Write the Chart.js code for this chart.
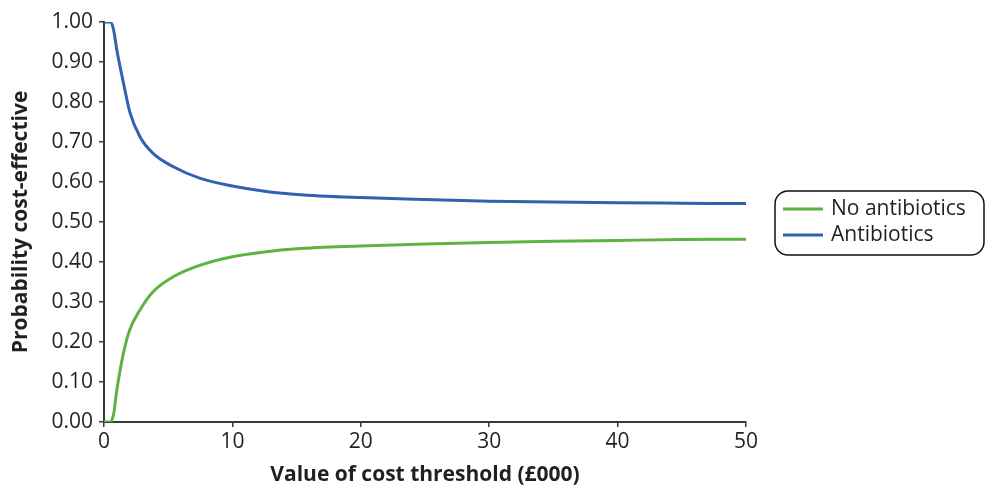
<!DOCTYPE html>
<html>
<head>
<meta charset="utf-8">
<script src="https://cdn.jsdelivr.net/npm/chart.js@4.4.1/dist/chart.umd.min.js"></script>
<style>
  html, body { margin: 0; padding: 0; background: #fff; }
  #wrap { width: 986px; height: 492px; position: relative; }
</style>
</head>
<body>
<div id="wrap"><canvas id="ceac"></canvas></div>
<script>
// cost threshold (£000)
const thresholds = [0, 0.5, 0.75, 1, 1.5, 2, 2.8, 3.8, 5.4, 7.5, 10, 12.5, 15, 20, 25, 30, 35, 40, 45, 50];
const noAntibiotics = [0, 0, 0.02, 0.08, 0.17, 0.23, 0.28, 0.325, 0.363, 0.392, 0.413, 0.425, 0.433, 0.44, 0.445, 0.449, 0.452, 0.454, 0.456, 0.457];
const antibiotics = [1, 1, 0.98, 0.93, 0.85, 0.776, 0.713, 0.672, 0.638, 0.609, 0.59, 0.577, 0.569, 0.561, 0.556, 0.552, 0.55, 0.548, 0.547, 0.546];
const seriesNames = ["No antibiotics", "Antibiotics"];
const seriesColors = ["#5DB342", "#3062B2"];

const textColor = "#231f20";
const axisColor = "#3a3a3a";
const fontFamily = "'Open Sans', 'Noto Sans', sans-serif";

const toPoints = (ys) => thresholds.map((x, i) => ({ x: x, y: ys[i] }));

// legend with rounded frame on the right
const boxLegend = {
  id: "boxLegend",
  afterDraw(chart) {
    const c = chart.ctx;
    c.save();
    c.strokeStyle = "#111";
    c.lineWidth = 1.5;
    c.beginPath();
    c.roundRect(775, 191, 209, 64, 13);
    c.stroke();
    c.font = "21px " + fontFamily;
    c.textBaseline = "middle";
    seriesNames.forEach((name, i) => {
      const y = 209 + i * 26;
      c.strokeStyle = seriesColors[i];
      c.lineWidth = 3;
      c.beginPath();
      c.moveTo(783, y);
      c.lineTo(823, y);
      c.stroke();
      c.fillStyle = textColor;
      c.fillText(name, 831, y);
    });
    c.restore();
  },
};

const ctx = document.getElementById("ceac").getContext("2d");
const ceacChart = new Chart(ctx, {
  type: "line",
  data: {
    datasets: [
      {
        label: seriesNames[0],
        data: toPoints(noAntibiotics),
        borderColor: seriesColors[0],
        borderWidth: 3,
        pointRadius: 0,
        cubicInterpolationMode: "monotone",
      },
      {
        label: seriesNames[1],
        data: toPoints(antibiotics),
        borderColor: seriesColors[1],
        borderWidth: 3,
        pointRadius: 0,
        cubicInterpolationMode: "monotone",
      },
    ],
  },
  options: {
    responsive: true,
    maintainAspectRatio: false,
    animation: false,
    layout: { padding: { left: 8, right: 240, top: 22, bottom: 4 } },
    plugins: {
      legend: { display: false },
      tooltip: { enabled: false },
    },
    scales: {
      x: {
        type: "linear",
        min: 0,
        max: 50,
        ticks: {
          stepSize: 10,
          color: textColor,
          font: { family: fontFamily, size: 21 },
          padding: 2,
        },
        grid: {
          drawOnChartArea: false,
          tickLength: 5,
          color: axisColor,
          lineWidth: 1.5,
        },
        border: { color: axisColor, width: 2 },
        title: {
          display: true,
          text: "Value of cost threshold (£000)",
          color: textColor,
          font: { family: fontFamily, size: 21, weight: "bold" },
          padding: { top: 4, bottom: 0 },
        },
        afterFit(scale) { scale.height = 66; },
      },
      y: {
        min: 0,
        max: 1,
        ticks: {
          stepSize: 0.1,
          color: textColor,
          font: { family: fontFamily, size: 21 },
          padding: 6,
          callback: (v) => v.toFixed(2),
        },
        grid: {
          drawOnChartArea: false,
          tickLength: 5,
          color: axisColor,
          lineWidth: 1.5,
        },
        border: { color: axisColor, width: 2 },
        title: {
          display: true,
          text: "Probability cost-effective",
          color: textColor,
          font: { family: fontFamily, size: 21, weight: "bold" },
          padding: { top: 0, bottom: 4 },
        },
        afterFit(scale) { scale.width = 96; },
      },
    },
  },
  plugins: [boxLegend],
});
</script>
</body>
</html>
